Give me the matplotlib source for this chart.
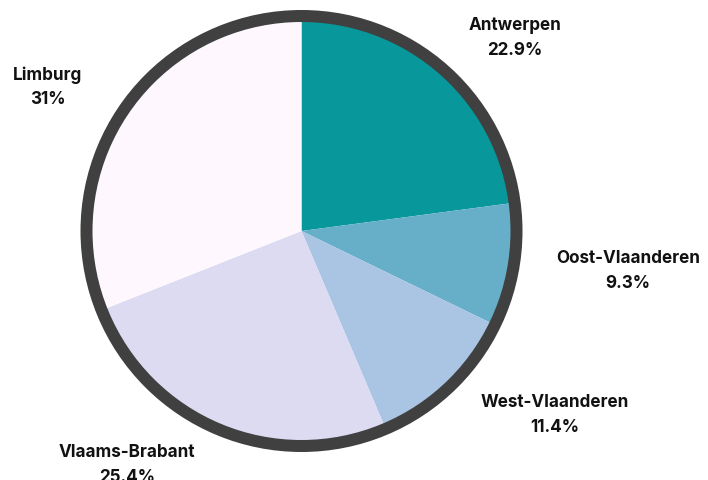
import matplotlib
matplotlib.use("Agg")
import matplotlib.pyplot as plt
from matplotlib.patches import Circle

# Data
categories = ["Antwerpen", "Oost-Vlaanderen", "West-Vlaanderen", "Vlaams-Brabant", "Limburg"]
values = [22.9, 9.3, 11.4, 25.4, 31.0]
value_labels = ["22.9%", "9.3%", "11.4%", "25.4%", "31%"]

# Styling / layout
colors = ["#08979B", "#67AFC9", "#AAC5E4", "#DDDBF1", "#FEF8FE"]
ring_color = "#404040"
W, H = 708, 481
cx, cy_px, r = 301.5, 232, 215
label_pos_px = [(515, 38), (628, 271), (555, 415), (127, 465), (48, 87)]

plt.rcParams['font.family'] = ['Inter', 'DejaVu Sans']

fig = plt.figure(figsize=(W / 100, H / 100), dpi=100)
ax = fig.add_axes([0, 0, 1, 1])

cy = H - cy_px
ax.pie(values, colors=colors, startangle=90, counterclock=False,
       center=(cx, cy), radius=r, frame=True,
       wedgeprops=dict(linewidth=0))
ax.set_xlim(0, W)
ax.set_ylim(0, H)
ax.set_aspect("equal")
ax.axis("off")

ring = Circle((cx, cy), r, fill=False, edgecolor=ring_color, linewidth=12 * 72 / 100)
ax.add_patch(ring)

for (x, y), cat, vl in zip(label_pos_px, categories, value_labels):
    ax.text(x, H - y, f"{cat}\n{vl}", ha="center", va="center",
            fontsize=12.3, fontweight="bold", color="#111111", linespacing=1.55)

fig.savefig("out.png", dpi=100)
